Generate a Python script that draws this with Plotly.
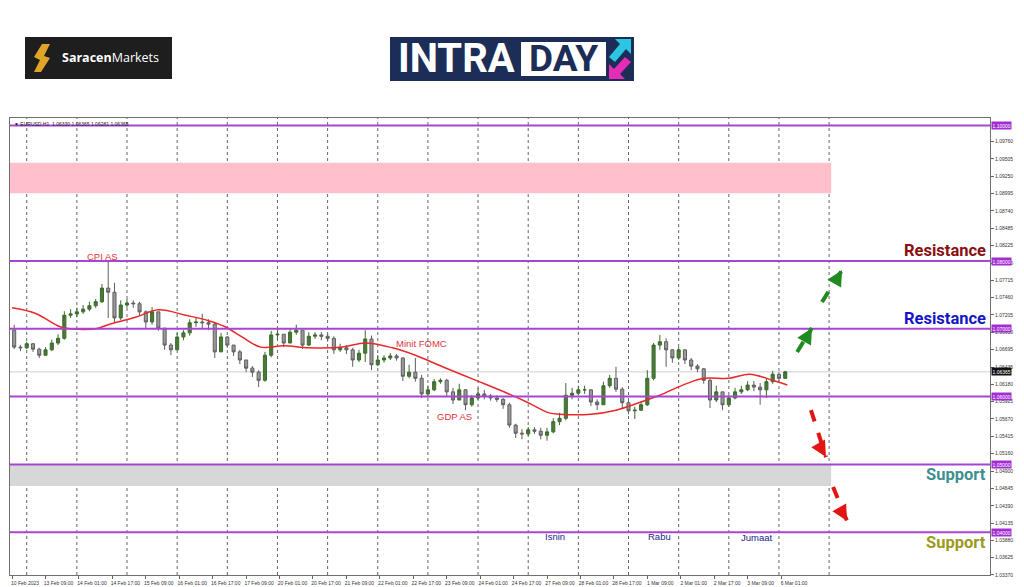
import plotly.graph_objects as go

# ------------------------------------------------------------------ data
TIME_LABELS = ["10 Feb 2023", "13 Feb 09:00", "14 Feb 01:00", "14 Feb 17:00", "15 Feb 09:00",
               "16 Feb 01:00", "16 Feb 17:00", "17 Feb 09:00", "20 Feb 01:00", "20 Feb 17:00",
               "21 Feb 09:00", "22 Feb 01:00", "22 Feb 17:00", "23 Feb 09:00", "24 Feb 01:00",
               "24 Feb 17:00", "27 Feb 09:00", "28 Feb 01:00", "28 Feb 17:00", "1 Mar 09:00",
               "2 Mar 01:00", "2 Mar 17:00", "3 Mar 09:00", "6 Mar 01:00"]
LABEL_STEP_HOURS = 16
BAR_HOURS = 3          # each candle = 3 trading hours
DAY_STARTS = [7, 31, 55, 79, 103, 127, 151, 175, 199, 223, 247, 271, 295, 319, 343, 367, 391]

OPEN_FIRST = 1.0698
CLOSE = [
    1.0673, 1.0672, 1.0678, 1.0670, 1.0661, 1.0669, 1.0679, 1.0686, 1.0720, 1.0722,
    1.0725, 1.0729, 1.0734, 1.0740, 1.0760, 1.0754, 1.0716, 1.0735, 1.0738, 1.0737,
    1.0725, 1.0710, 1.0725, 1.0701, 1.0676, 1.0669, 1.0688, 1.0694, 1.0709, 1.0710,
    1.0709, 1.0707, 1.0666, 1.0688, 1.0676, 1.0666, 1.0654, 1.0642, 1.0636, 1.0624,
    1.0661, 1.0691, 1.0692, 1.0679, 1.0695, 1.0698, 1.0676, 1.0689, 1.0691, 1.0689,
    1.0686, 1.0669, 1.0672, 1.0669, 1.0654, 1.0664, 1.0685, 1.0647, 1.0654, 1.0657,
    1.0660, 1.0657, 1.0630, 1.0636, 1.0627, 1.0604, 1.0610, 1.0622, 1.0624, 1.0607,
    1.0595, 1.0610, 1.0588, 1.0598, 1.0604, 1.0601, 1.0598, 1.0596, 1.0588, 1.0558,
    1.0546, 1.0545, 1.0551, 1.0549, 1.0543, 1.0548, 1.0563, 1.0568, 1.0602, 1.0605,
    1.0610, 1.0610, 1.0592, 1.0588, 1.0616, 1.0627, 1.0611, 1.0591, 1.0579, 1.0580,
    1.0588, 1.0627, 1.0676, 1.0681, 1.0669, 1.0657, 1.0669, 1.0654, 1.0645, 1.0641,
    1.0624, 1.0595, 1.0607, 1.0588, 1.0598, 1.0607, 1.0610, 1.0617, 1.0614, 1.0610,
    1.0622, 1.0633, 1.0627, 1.06365]
HIGH = [
    1.0706, 1.0676, 1.0681, 1.0679, 1.0672, 1.0673, 1.0684, 1.0692, 1.0726, 1.0729,
    1.0731, 1.0735, 1.0740, 1.0744, 1.0766, 1.0799, 1.0768, 1.0742, 1.0744, 1.0742,
    1.0740, 1.0727, 1.0732, 1.0725, 1.0701, 1.0679, 1.0694, 1.0698, 1.0714, 1.0716,
    1.0722, 1.0714, 1.0710, 1.0694, 1.0689, 1.0676, 1.0669, 1.0654, 1.0645, 1.0639,
    1.0666, 1.0697, 1.0700, 1.0692, 1.0701, 1.0706, 1.0698, 1.0695, 1.0695, 1.0695,
    1.0692, 1.0689, 1.0678, 1.0676, 1.0672, 1.0669, 1.0698, 1.0690, 1.0661, 1.0661,
    1.0664, 1.0663, 1.0658, 1.0647, 1.0657, 1.0632, 1.0616, 1.0626, 1.0627, 1.0626,
    1.0613, 1.0619, 1.0611, 1.0602, 1.0613, 1.0610, 1.0604, 1.0602, 1.0598, 1.0591,
    1.0560, 1.0552, 1.0555, 1.0555, 1.0554, 1.0554, 1.0568, 1.0576, 1.0620, 1.0613,
    1.0616, 1.0616, 1.0611, 1.0596, 1.0622, 1.0632, 1.0644, 1.0614, 1.0594, 1.0585,
    1.0592, 1.0639, 1.0679, 1.0691, 1.0686, 1.0670, 1.0673, 1.0669, 1.0657, 1.0648,
    1.0642, 1.0627, 1.0616, 1.0607, 1.0602, 1.0613, 1.0616, 1.0623, 1.0623, 1.0620,
    1.0627, 1.0638, 1.0636, 1.0638]
LOW = [
    1.0670, 1.0667, 1.0670, 1.0666, 1.0657, 1.0661, 1.0667, 1.0676, 1.0684, 1.0716,
    1.0717, 1.0722, 1.0726, 1.0731, 1.0738, 1.0716, 1.0709, 1.0713, 1.0731, 1.0731,
    1.0719, 1.0701, 1.0706, 1.0697, 1.0669, 1.0661, 1.0669, 1.0683, 1.0690, 1.0703,
    1.0701, 1.0698, 1.0657, 1.0666, 1.0672, 1.0660, 1.0648, 1.0636, 1.0629, 1.0614,
    1.0622, 1.0658, 1.0683, 1.0673, 1.0679, 1.0691, 1.0670, 1.0675, 1.0685, 1.0683,
    1.0681, 1.0663, 1.0666, 1.0663, 1.0644, 1.0651, 1.0651, 1.0639, 1.0645, 1.0650,
    1.0654, 1.0653, 1.0623, 1.0627, 1.0622, 1.0598, 1.0599, 1.0608, 1.0619, 1.0601,
    1.0589, 1.0595, 1.0580, 1.0585, 1.0595, 1.0596, 1.0594, 1.0592, 1.0582, 1.0554,
    1.0539, 1.0537, 1.0542, 1.0545, 1.0537, 1.0535, 1.0546, 1.0558, 1.0565, 1.0596,
    1.0602, 1.0604, 1.0586, 1.0580, 1.0588, 1.0613, 1.0607, 1.0583, 1.0574, 1.0567,
    1.0579, 1.0586, 1.0624, 1.0669, 1.0644, 1.0650, 1.0654, 1.0648, 1.0639, 1.0636,
    1.0619, 1.0583, 1.0592, 1.0580, 1.0585, 1.0596, 1.0604, 1.0608, 1.0608, 1.0588,
    1.0598, 1.0619, 1.0623, 1.0626]

MA_HOURS = [0, 11, 23, 28, 40, 46, 59, 70, 83, 94, 102, 110, 119, 130, 142, 158, 169, 182,
            193, 206, 222, 237, 247, 257, 262, 277, 289, 300, 310, 321, 331, 343, 353, 364, 371]
MA_PRICE = [1.0731, 1.0723, 1.0703, 1.0700, 1.0700, 1.0706, 1.0717, 1.0728, 1.0720, 1.0712,
            1.0703, 1.0688, 1.0673, 1.0675, 1.0672, 1.0673, 1.0679, 1.0672, 1.0661, 1.0644,
            1.0624, 1.0605, 1.0591, 1.0576, 1.0574, 1.0574, 1.0580, 1.0591, 1.0602, 1.0617,
            1.0627, 1.0627, 1.0633, 1.0624, 1.0617]

LEVELS = [1.10000, 1.08000, 1.07000, 1.06000, 1.05000, 1.04000]
LAST_PRICE = 1.06365
PINK_ZONE = [1.0900, 1.0945]
GREY_ZONE = [1.0468, 1.0500]
ZONE_END_HOUR = 392
Y_TICKS = [1.09760, 1.09505, 1.09250, 1.08995, 1.08740, 1.08485, 1.08225, 1.07970, 1.07715,
           1.07460, 1.07205, 1.06950, 1.06695, 1.06435, 1.06180, 1.05925, 1.05670, 1.05415,
           1.05160, 1.04900, 1.04645, 1.04390, 1.04135, 1.03880, 1.03625, 1.03370]

EVENTS = [("CPI AS", 43.5, 1.0806), ("Minit FOMC", 196, 1.0679), ("GDP AS", 211.5, 1.0571)]
DAYS = [("Isnin", 260, 1.0393), ("Rabu", 310, 1.0393), ("Jumaat", 356.5, 1.0392)]
BIG_LABELS = [("Resistance", 1.0816, "#8b0f0f"), ("Resistance", 1.07145, "#1515c8"),
              ("Support", 1.04858, "#3d8f8f"), ("Support", 1.03855, "#9c9a1c")]
ARROWS = [  # (hour0, price0, hour1, price1, colour)
    (375.7, 1.06658, 382.8, 1.07012, "#1f8a1f"),
    (387.6, 1.07395, 397.2, 1.07867, "#1f8a1f"),
    (382.3, 1.05802, 389.5, 1.05109, "#e31414"),
    (392.9, 1.04667, 399.6, 1.04165, "#e31414"),
]

X_RANGE = [-1, 468]
Y_RANGE = [1.03369, 1.10109]

# ------------------------------------------------------------------ layout helpers
W, H = 1024, 587
ML, MR, MT, MB = 10, 34, 118, 12
PW, PH = W - ML - MR, H - MT - MB


def px(x):
    return (x - ML) / PW


def py(y):
    return (H - MB - y) / PH


def path(points):
    s = "M " + " L ".join(f"{px(a):.5f},{py(b):.5f}" for a, b in points) + " Z"
    return s


# ------------------------------------------------------------------ traces
bar_x = [BAR_HOURS * j + 1 for j in range(len(CLOSE))]
opens = [OPEN_FIRST] + CLOSE[:-1]

fig = go.Figure()
fig.add_trace(go.Candlestick(
    x=bar_x, open=opens, high=HIGH, low=LOW, close=CLOSE,
    increasing=dict(line=dict(color="#3b6b2b", width=1), fillcolor="#4a7a3a"),
    decreasing=dict(line=dict(color="#5e5e5e", width=1), fillcolor="#9a9a9a"),
    whiskerwidth=0, showlegend=False, hoverinfo="skip"))
fig.add_trace(go.Scatter(x=MA_HOURS, y=MA_PRICE, mode="lines", line=dict(color="#e8282a", width=1.5, shape="spline"),
                         showlegend=False, hoverinfo="skip"))

shapes = []
shapes.append(dict(type="rect", xref="x", yref="y", x0=X_RANGE[0], x1=ZONE_END_HOUR, y0=PINK_ZONE[0], y1=PINK_ZONE[1],
                   fillcolor="#ffc0cb", line=dict(width=0), layer="below"))
shapes.append(dict(type="rect", xref="x", yref="y", x0=X_RANGE[0], x1=ZONE_END_HOUR, y0=GREY_ZONE[0], y1=GREY_ZONE[1],
                   fillcolor="#d7d7d7", line=dict(width=0), layer="below"))
for d in DAY_STARTS:
    shapes.append(dict(type="line", xref="x", yref="paper", x0=d, x1=d, y0=0, y1=1,
                       line=dict(color="#666666", width=1, dash="dot"), layer="below"))
shapes.append(dict(type="line", xref="paper", yref="y", x0=0, x1=1, y0=LAST_PRICE, y1=LAST_PRICE,
                   line=dict(color="#cfcfcf", width=1), layer="below"))
for lv in LEVELS:
    shapes.append(dict(type="line", xref="paper", yref="y", x0=0, x1=1, y0=lv, y1=lv,
                       line=dict(color="#a844d4", width=2)))
for h0, p0, h1, p1, c in ARROWS:
    shapes.append(dict(type="line", xref="x", yref="y", x0=h0, y0=p0, x1=h1, y1=p1,
                       line=dict(color=c, width=4, dash="dash")))

# logos (decoration, in paper coordinates)
shapes.append(dict(type="rect", xref="paper", yref="paper", x0=px(25), x1=px(172), y0=py(79), y1=py(37),
                   fillcolor="#1e1e1e", line=dict(width=0)))
shapes.append(dict(type="path", xref="paper", yref="paper",
                   path=path([(42, 44), (50, 44), (44, 56), (50, 58), (41, 72), (34, 72), (40, 60), (34, 57)]),
                   fillcolor="#e0a528", line=dict(width=0)))
shapes.append(dict(type="rect", xref="paper", yref="paper", x0=px(390), x1=px(634), y0=py(81), y1=py(37),
                   fillcolor="#1c2e57", line=dict(width=0)))
shapes.append(dict(type="rect", xref="paper", yref="paper", x0=px(521), x1=px(606), y0=py(76), y1=py(42),
                   fillcolor="#ffffff", line=dict(width=0)))
shapes.append(dict(type="path", xref="paper", yref="paper",
                   path=path([(631, 39), (631, 54), (626, 49), (615, 62), (609, 57), (620, 44), (615, 39)]),
                   fillcolor="#2cc6e4", line=dict(width=0)))
shapes.append(dict(type="path", xref="paper", yref="paper",
                   path=path([(609, 79), (609, 64), (614, 69), (625, 57), (631, 62), (620, 74), (625, 79)]),
                   fillcolor="#e42cb6", line=dict(width=0)))

annotations = []
for txt, h, p in EVENTS:
    annotations.append(dict(x=h, y=p, xref="x", yref="y", text=txt, showarrow=False,
                            xanchor="center", yanchor="middle",
                            font=dict(family="Liberation Sans", size=9.5, color="#e0333a")))
for txt, h, p in DAYS:
    annotations.append(dict(x=h, y=p, xref="x", yref="y", text=txt, showarrow=False,
                            xanchor="center", yanchor="middle",
                            font=dict(family="Liberation Sans", size=9.5, color="#23238a")))
for txt, p, c in BIG_LABELS:
    annotations.append(dict(x=px(988), y=p, xref="paper", yref="y", text=f"<b>{txt}</b>", showarrow=False,
                            xanchor="right", yanchor="middle", font=dict(family="Roboto", size=16.5, color=c)))
for h0, p0, h1, p1, c in ARROWS:
    annotations.append(dict(x=h1, y=p1, xref="x", yref="y", text="", showarrow=True,
                            ax=(h0 - h1) / abs(h1 - h0) * 4, ay=7 if p1 > p0 else -7,
                            arrowhead=2, arrowsize=0.9, arrowwidth=3.5, arrowcolor=c))
for lv in LEVELS:
    annotations.append(dict(x=1, y=lv, xref="paper", yref="y", text=f"{lv:.5f}", showarrow=False,
                            xanchor="left", yanchor="middle", xshift=1, bgcolor="#a22ed2", borderpad=0.5,
                            font=dict(family="Liberation Sans", size=5, color="#ffffff")))
annotations.append(dict(x=1, y=LAST_PRICE, xref="paper", yref="y", text=f"{LAST_PRICE:.5f}", showarrow=False,
                        xanchor="left", yanchor="middle", xshift=1, bgcolor="#111111", borderpad=0.5,
                        font=dict(family="Liberation Sans", size=5, color="#ffffff")))
annotations.append(dict(x=0, y=1, xref="paper", yref="paper", xanchor="left", yanchor="top", xshift=2, yshift=-1,
                        text="▼ EURUSD,H1  1.06330 1.06365 1.06281 1.06365", showarrow=False,
                        font=dict(family="Liberation Sans", size=5, color="#222222")))
annotations.append(dict(x=px(110), y=py(58), xref="paper", yref="paper", text="<b>Saracen</b>Markets",
                        xanchor="center", yanchor="middle",
                        showarrow=False, font=dict(family="Open Sans", size=12.5, color="#ffffff")))
annotations.append(dict(x=px(396), y=py(59), xref="paper", yref="paper", text="<b>INTRA</b>",
                        xanchor="left", yanchor="middle",
                        showarrow=False, font=dict(family="Roboto", size=40, color="#ffffff")))
annotations.append(dict(x=px(563.5), y=py(59), xref="paper", yref="paper", text="<b>DAY</b>",
                        xanchor="center", yanchor="middle",
                        showarrow=False, font=dict(family="Roboto", size=37, color="#1c2e57")))

fig.update_layout(
    width=W, height=H, margin=dict(l=ML, r=MR, t=MT, b=MB, autoexpand=False),
    paper_bgcolor="#ffffff", plot_bgcolor="#ffffff",
    shapes=shapes, annotations=annotations, boxgap=0.3,
    xaxis=dict(range=X_RANGE, rangeslider=dict(visible=False), showgrid=False, zeroline=False,
               automargin=False,
               tickmode="array", tickvals=[LABEL_STEP_HOURS * i for i in range(len(TIME_LABELS))],
               ticktext=TIME_LABELS, ticks="outside", ticklen=3, tickcolor="#666666",
               ticklabelshift=13, tickfont=dict(family="Liberation Sans", size=5, color="#333333"),
               showline=True, linecolor="#707070", linewidth=1, mirror=True),
    yaxis=dict(range=Y_RANGE, side="right", showgrid=False, zeroline=False, automargin=False,
               tickmode="array", tickvals=Y_TICKS, ticktext=[f"{v:.5f}" for v in Y_TICKS],
               ticks="outside", ticklen=3, tickcolor="#666666",
               tickfont=dict(family="Liberation Sans", size=5, color="#333333"),
               showline=True, linecolor="#707070", linewidth=1, mirror=True),
)

fig.write_html("out.html", config={"displayModeBar": False},
               post_script="document.body.style.margin='0';document.body.style.overflow='hidden';")
